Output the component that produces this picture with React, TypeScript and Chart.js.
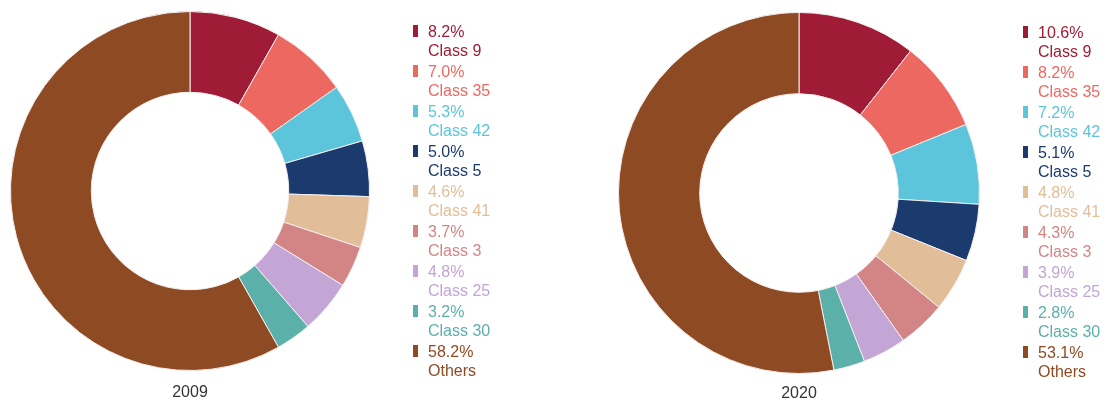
import React, { useEffect, useRef } from "react";
import { Chart, registerables } from "chart.js";

Chart.register(...registerables);

const categories = ["Class 9", "Class 35", "Class 42", "Class 5", "Class 41", "Class 3", "Class 25", "Class 30", "Others"];
const values2009 = [8.2, 7.0, 5.3, 5.0, 4.6, 3.7, 4.8, 3.2, 58.2];
const values2020 = [10.6, 8.2, 7.2, 5.1, 4.8, 4.3, 3.9, 2.8, 53.1];
const labels2009 = ["8.2%", "7.0%", "5.3%", "5.0%", "4.6%", "3.7%", "4.8%", "3.2%", "58.2%"];
const labels2020 = ["10.6%", "8.2%", "7.2%", "5.1%", "4.8%", "4.3%", "3.9%", "2.8%", "53.1%"];
const colors = ["#A01B35", "#EE6862", "#5CC5DB", "#1B3B6F", "#E2BE98", "#D38585", "#C3A5D6", "#5BB0AA", "#8E4A23"];

const FONT = "'Liberation Sans', Arial, sans-serif";

type Cfg = {
  title: string;
  values: number[];
  pctLabels: string[];
  padding: { left: number; right: number; top: number; bottom: number };
  legendX: number;
  legendTop: number;
  titleX: number;
  titleY: number;
};

function makeOverlay(cfg: Cfg) {
  return {
    id: "overlay",
    afterDraw(chart: any) {
      const ctx = chart.ctx as CanvasRenderingContext2D;
      ctx.save();
      ctx.textBaseline = "middle";
      ctx.textAlign = "left";
      ctx.font = `16px ${FONT}`;
      categories.forEach((cat, i) => {
        const base = cfg.legendTop + 40 * i;
        ctx.fillStyle = colors[i];
        ctx.fillRect(cfg.legendX, base, 5, 12);
        ctx.fillText(cfg.pctLabels[i], cfg.legendX + 15, base + 8);
        ctx.fillText(cat, cfg.legendX + 15, base + 27);
      });
      ctx.textAlign = "center";
      ctx.fillStyle = "#333333";
      ctx.font = `16px ${FONT}`;
      ctx.fillText(cfg.title, cfg.titleX, cfg.titleY);
      ctx.restore();
    },
  };
}

function Donut({ cfg, left, width }: { cfg: Cfg; left: number; width: number }) {
  const ref = useRef<HTMLCanvasElement | null>(null);
  useEffect(() => {
    if (!ref.current) return;
    const chart = new Chart(ref.current, {
      type: "doughnut",
      data: {
        labels: categories,
        datasets: [
          {
            data: cfg.values,
            backgroundColor: colors,
            borderColor: "#f4eeee",
            borderWidth: 1,
          },
        ],
      },
      options: {
        responsive: false,
        animation: false,
        cutout: "55%",
        layout: { padding: cfg.padding },
        plugins: { legend: { display: false }, tooltip: { enabled: false }, title: { display: false } },
      },
      plugins: [makeOverlay(cfg)],
    });
    return () => chart.destroy();
  }, []);
  return (
    <canvas
      ref={ref}
      width={width}
      height={401}
      style={{ position: "absolute", left, top: 0, width, height: 401 }}
    />
  );
}

const cfg2009: Cfg = {
  title: "2009",
  values: values2009,
  pctLabels: labels2009,
  padding: { left: 10, right: 184, top: 11, bottom: 30 },
  legendX: 413,
  legendTop: 25,
  titleX: 190,
  titleY: 393,
};

const cfg2020: Cfg = {
  title: "2020",
  values: values2020,
  pctLabels: labels2020,
  padding: { left: 64, right: 127, top: 12, bottom: 27 },
  legendX: 469,
  legendTop: 26,
  titleX: 245,
  titleY: 394,
};

export default function App() {
  return (
    <div style={{ position: "absolute", left: 0, top: 0, width: 1107, height: 401, background: "#ffffff", overflow: "hidden" }}>
      <Donut cfg={cfg2009} left={0} width={554} />
      <Donut cfg={cfg2020} left={554} width={553} />
    </div>
  );
}
